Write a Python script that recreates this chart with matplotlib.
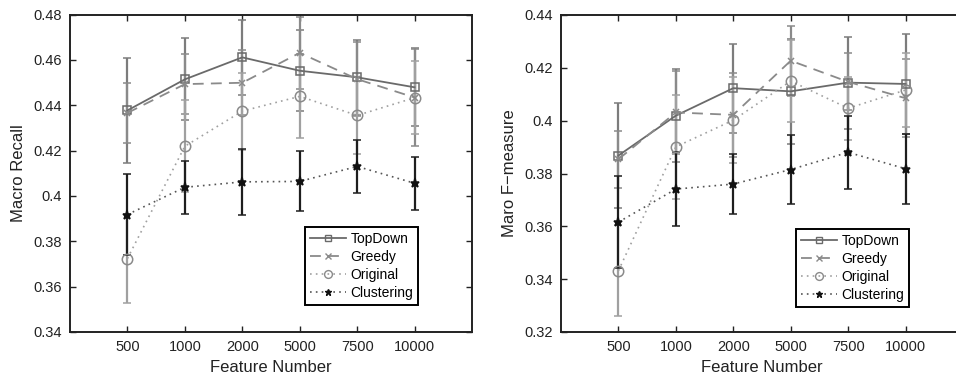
import matplotlib
matplotlib.use("Agg")
import matplotlib.pyplot as plt
from matplotlib.lines import Line2D
import numpy as np

plt.rcParams['font.family'] = ['Liberation Sans', 'DejaVu Sans']

features = ['500', '1000', '2000', '5000', '7500', '10000']
series = ['TopDown', 'Greedy', 'Original', 'Clustering']

# Left: Macro Recall
recall_mean = {
    'TopDown':    [0.4377, 0.4514, 0.4611, 0.4552, 0.4523, 0.4479],
    'Greedy':     [0.4366, 0.4493, 0.4499, 0.4631, 0.4515, 0.4434],
    'Original':   [0.3724, 0.4219, 0.4374, 0.4439, 0.4355, 0.4433],
    'Clustering': [0.3918, 0.4038, 0.4062, 0.4064, 0.4130, 0.4056],
}
recall_err = {
    'TopDown':    [0.0231, 0.0181, 0.0165, 0.0179, 0.0165, 0.0172],
    'Greedy':     [0.0132, 0.0132, 0.0144, 0.0159, 0.0162, 0.0213],
    'Original':   [0.0198, 0.0203, 0.0170, 0.0185, 0.0170, 0.0160],
    'Clustering': [0.0178, 0.0116, 0.0144, 0.0132, 0.0116, 0.0116],
}
recall_ticks = ['0.34', '0.36', '0.38', '0.4', '0.42', '0.44', '0.46', '0.48']

# Right: Macro F-measure
fmeas_mean = {
    'TopDown':    [0.3868, 0.4019, 0.4123, 0.4111, 0.4144, 0.4139],
    'Greedy':     [0.3854, 0.4031, 0.4022, 0.4227, 0.4147, 0.4085],
    'Original':   [0.3432, 0.3901, 0.4002, 0.4150, 0.4047, 0.4116],
    'Clustering': [0.3616, 0.3741, 0.3760, 0.3815, 0.3880, 0.3818],
}
fmeas_err = {
    'TopDown':    [0.0198, 0.0175, 0.0168, 0.0200, 0.0174, 0.0188],
    'Greedy':     [0.0108, 0.0158, 0.0160, 0.0132, 0.0108, 0.0147],
    'Original':   [0.0173, 0.0198, 0.0163, 0.0154, 0.0120, 0.0140],
    'Clustering': [0.0173, 0.0140, 0.0115, 0.0131, 0.0137, 0.0132],
}
fmeas_ticks = ['0.32', '0.34', '0.36', '0.38', '0.4', '0.42', '0.44']

styles = {
    'TopDown':    dict(ls='-',  color='#6a6a6a', ecolor='#7c7c7c', marker='s', ms=6,
                       mfc='none', mec='#6a6a6a', lw=1.3),
    'Greedy':     dict(ls=(0, (6, 4)), color='#8a8a8a', ecolor='#8a8a8a', marker='x', ms=5,
                       mfc='none', mec='#8a8a8a', lw=1.3),
    'Original':   dict(ls=(0, (1, 2.5)), color='#a0a0a0', ecolor='#a0a0a0', marker='o', ms=7.5,
                       mfc='none', mec='#8a8a8a', lw=1.2),
    'Clustering': dict(ls=(0, (1, 2.5)), color='#555555', ecolor='#1e1e1e', marker='*', ms=6.5,
                       mfc='#111111', mec='#111111', lw=1.2),
}

fig = plt.figure(figsize=(9.56, 3.77), dpi=100)
W, H = 956, 377


def make_axes(left_px, right_px, top_px, bottom_px):
    return fig.add_axes([left_px / W, 1 - bottom_px / H,
                         (right_px - left_px) / W, (bottom_px - top_px) / H])


def draw(ax, means, errs, ylim, yticklabels, ylabel, leg_anchor):
    x = np.arange(1, len(features) + 1)
    handles = []
    for s in series:
        st = styles[s]
        ax.errorbar(x, means[s], yerr=errs[s], ls=st['ls'], color=st['color'],
                    ecolor=st['ecolor'], elinewidth=1.6, capsize=3, capthick=1.3,
                    marker=st['marker'], ms=st['ms'], mfc=st['mfc'], mec=st['mec'],
                    mew=1.1, lw=st['lw'])
        handles.append(Line2D([], [], ls=st['ls'], color=st['color'], lw=st['lw'],
                              marker=st['marker'], ms=st['ms'] * 0.75, mfc=st['mfc'],
                              mec=st['mec'], mew=1.0, label=s))
    ax.set_xlim(0, 7)
    ax.set_ylim(*ylim)
    ax.set_xticks(x)
    ax.set_xticklabels(features)
    yt = [float(t) for t in yticklabels]
    ax.set_yticks(yt)
    ax.set_yticklabels(yticklabels)
    ax.tick_params(direction='in', length=4, width=1, top=True, right=True,
                   labelsize=10.5, pad=6, colors='#222222')
    for sp in ax.spines.values():
        sp.set_linewidth(1.4)
        sp.set_color('#222222')
    ax.set_xlabel('Feature Number', fontsize=12, labelpad=4, color='#222222')
    ax.set_ylabel(ylabel, fontsize=12, labelpad=5, color='#222222')
    leg = ax.legend(handles=handles, loc='lower right', bbox_to_anchor=leg_anchor,
                    fontsize=10, fancybox=False, framealpha=1, edgecolor='black',
                    handlelength=2.6, handletextpad=0.3, borderpad=0.35,
                    labelspacing=0.3, borderaxespad=0)
    leg.get_frame().set_linewidth(1.4)


ax1 = make_axes(70, 472, 14.5, 332)
draw(ax1, recall_mean, recall_err, (0.34, 0.48), recall_ticks, 'Macro Recall',
     (0.866, 0.085))

ax2 = make_axes(561, 963, 15, 332)
draw(ax2, fmeas_mean, fmeas_err, (0.32, 0.44), fmeas_ticks, 'Maro F\u2212measure',
     (0.866, 0.079))

fig.savefig('out.png', dpi=100)
